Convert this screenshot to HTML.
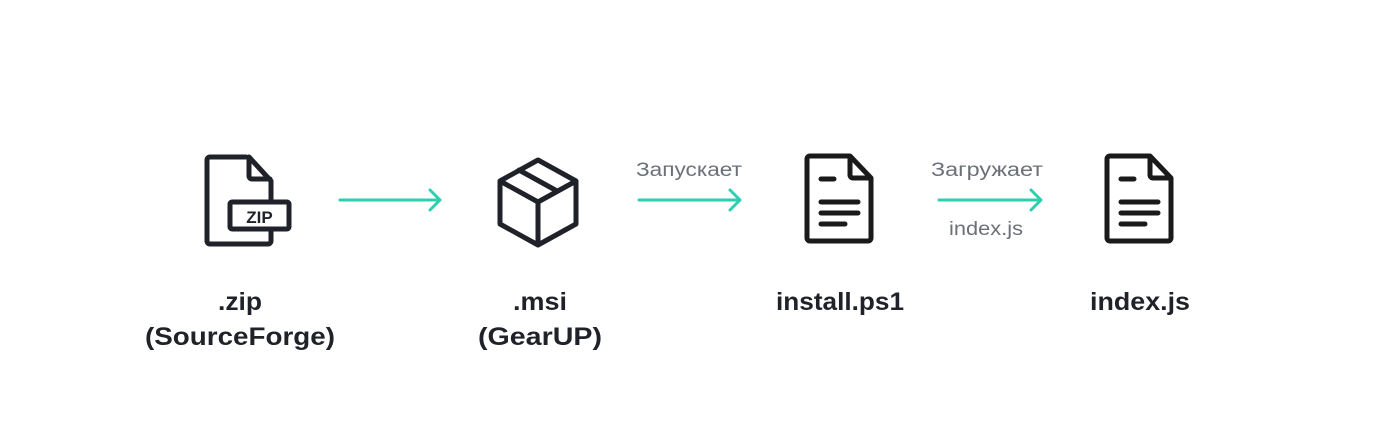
<!DOCTYPE html>
<html><head><meta charset="utf-8"><style>body{margin:0;background:#fff}svg{display:block}</style></head><body>
<svg width="1380" height="440" viewBox="0 0 1380 440" xmlns="http://www.w3.org/2000/svg">
<g fill="none" stroke="#1f2228" stroke-width="5" stroke-linejoin="round" stroke-linecap="round">
<!-- zip -->
<path d="M246 157 H210 a3 3 0 0 0 -3 3 V241 a3 3 0 0 0 3 3 H268 a3 3 0 0 0 3 -3 V231 M271 202 V181 L249 157 M249 158 V176 a3 3 0 0 0 3 3 H270"/>
<rect x="230" y="202" width="59" height="27" rx="2"/>
<!-- box -->
<path d="M538 160 L576 181 V224 L538 245 L500 224 V181 Z M500 181 L538 202 L576 181 M538 202 V245 M519 170 L557 191"/>
</g>
<g fill="none" stroke="#1a1a1a" stroke-width="5" stroke-linejoin="round" stroke-linecap="round">
<!-- doc 3 -->
<path d="M850 156 H810 a3 3 0 0 0 -3 3 V238 a3 3 0 0 0 3 3 H868 a3 3 0 0 0 3 -3 V178 Z M850 157 V175 a3 3 0 0 0 3 3 H870"/>
<path d="M821 179 H834 M821 202 H858 M821 213 H858 M821 224 H845"/>
<!-- doc 4 -->
<path d="M1150 156 H1110 a3 3 0 0 0 -3 3 V238 a3 3 0 0 0 3 3 H1168 a3 3 0 0 0 3 -3 V178 Z M1150 157 V175 a3 3 0 0 0 3 3 H1170"/>
<path d="M1121 179 H1134 M1121 202 H1158 M1121 213 H1158 M1121 224 H1145"/>
</g>
<text x="259.5" y="223" font-family="Liberation Sans, sans-serif" font-weight="bold" font-size="17" fill="#1f2228" text-anchor="middle">ZIP</text>
<g stroke="#2ecfae" stroke-width="3" fill="none" stroke-linecap="round" stroke-linejoin="round">
<path d="M340 200 H440 M430 190 L440 200 L430 210"/>
<path d="M639 200 H740 M730 190 L740 200 L730 210"/>
<path d="M939 200 H1041 M1031 190 L1041 200 L1031 210"/>
</g>
<g font-family="Liberation Sans, sans-serif" font-size="19" fill="#6b7079">
<text x="636" y="176" textLength="106" lengthAdjust="spacingAndGlyphs">Запускает</text>
<text x="931" y="176" textLength="112" lengthAdjust="spacingAndGlyphs">Загружает</text>
<text x="949" y="235" textLength="74" lengthAdjust="spacingAndGlyphs">index.js</text>
</g>
<g font-family="Liberation Sans, sans-serif" font-weight="bold" font-size="25" fill="#1f2228">
<text x="218" y="310" textLength="44" lengthAdjust="spacingAndGlyphs">.zip</text>
<text x="145" y="345" textLength="190" lengthAdjust="spacingAndGlyphs">(SourceForge)</text>
<text x="513" y="310" textLength="54" lengthAdjust="spacingAndGlyphs">.msi</text>
<text x="478" y="345" textLength="124" lengthAdjust="spacingAndGlyphs">(GearUP)</text>
<text x="776" y="310" textLength="128" lengthAdjust="spacingAndGlyphs">install.ps1</text>
<text x="1090" y="310" textLength="100" lengthAdjust="spacingAndGlyphs">index.js</text>
</g>
</svg>
</body></html>
